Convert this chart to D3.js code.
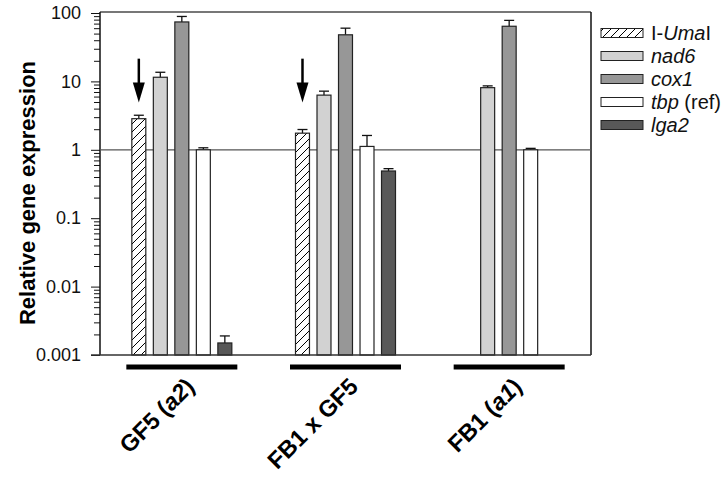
<!DOCTYPE html>
<html>
<head>
<meta charset="utf-8">
<script src="https://cdn.jsdelivr.net/npm/d3@7"></script>
<style>
  html, body { margin: 0; padding: 0; background: #fff; }
  svg { display: block; font-family: Arial, "Liberation Sans", sans-serif; }
</style>
</head>
<body>
<svg id="chart" width="725" height="477"></svg>
<script>
// ---- data ----
const groups = ["GF5 (a2)", "FB1 x GF5", "FB1 (a1)"];
const seriesKeys = ["umaI", "nad6", "cox1", "tbp", "lga2"];
const umaI = [2.85, 1.75, null];
const nad6 = [11.5, 6.3, 8.1];
const cox1 = [74, 48, 64];
const tbp  = [1.0, 1.12, 1.0];
const lga2 = [0.0015, 0.49, null];
const umaIErr = [3.2, 1.98, null];
const nad6Err = [13.6, 7.2, 8.6];
const cox1Err = [89, 60, 78];
const tbpErr  = [1.07, 1.62, 1.05];
const lga2Err = [0.0019, 0.53, null];
const yTickValues = [0.001, 0.01, 0.1, 1, 10, 100];
const yTickLabels = ["0.001", "0.01", "0.1", "1", "10", "100"];
const arrowGroups = [0, 1];
const arrowFrom = 21.5;
const arrowTo = 4.9;
const referenceValue = 1;

(function () {
const values = { umaI, nad6, cox1, tbp, lga2 };
const errors = { umaI: umaIErr, nad6: nad6Err, cox1: cox1Err, tbp: tbpErr, lga2: lga2Err };
const fills = { umaI: "url(#hatch)", nad6: "#d2d2d2", cox1: "#979797", tbp: "#ffffff", lga2: "#585858" };

// ---- layout ----
const svg = d3.select("#chart");
const pLeft = 100, pRight = 591, pTop = 13, pBottom = 355;

const x0 = d3.scaleBand().domain(groups).range([pLeft, pRight]).padding(0);
const x1 = d3.scaleBand().domain(seriesKeys).range([-50, 50]).paddingInner(0.35).paddingOuter(0);
const y = d3.scaleLog().domain([0.001, 100]).range([pBottom, pTop]);

// hatch pattern
const defs = svg.append("defs");
const pat = defs.append("pattern").attr("id", "hatch").attr("patternUnits", "userSpaceOnUse")
  .attr("width", 8).attr("height", 8);
pat.append("rect").attr("width", 8).attr("height", 8).attr("fill", "#fff");
pat.append("path").attr("d", "M-2,2 L2,-2 M0,8 L8,0 M6,10 L10,6").attr("stroke", "#000").attr("stroke-width", 1);

// frame: top (gray) and right (black)
svg.append("line").attr("x1", pLeft).attr("x2", pRight).attr("y1", 12).attr("y2", 12)
  .attr("stroke", "#777").attr("stroke-width", 2);
svg.append("line").attr("x1", pRight).attr("x2", pRight).attr("y1", 12).attr("y2", pBottom)
  .attr("stroke", "#111").attr("stroke-width", 1.5);

// y axis: major ticks
const yAxis = d3.axisLeft(y).tickValues(yTickValues).tickSize(9).tickPadding(10)
  .tickFormat((d, i) => yTickLabels[i]);
const gy = svg.append("g").attr("transform", `translate(${pLeft},0)`).call(yAxis);
gy.select(".domain").remove();
gy.selectAll("text").attr("font-size", 18).attr("fill", "#111").attr("font-family", "Arial, 'Liberation Sans', sans-serif");
gy.selectAll("line").attr("stroke", "#111");
// minor ticks
const minor = [];
for (let e = -3; e < 2; e++) for (let m = 2; m <= 9; m++) minor.push(m * Math.pow(10, e));
const yMinor = d3.axisLeft(y).tickValues(minor).tickSize(6).tickFormat("");
const gm = svg.append("g").attr("transform", `translate(${pLeft},0)`).call(yMinor);
gm.select(".domain").remove();
gm.selectAll("line").attr("stroke", "#111");
svg.append("line").attr("x1", pLeft).attr("x2", pLeft).attr("y1", pTop - 1).attr("y2", pBottom)
  .attr("stroke", "#111").attr("stroke-width", 1.5);

// reference line at 1
svg.append("line").attr("x1", pLeft).attr("x2", pRight).attr("y1", y(referenceValue)).attr("y2", y(referenceValue))
  .attr("stroke", "#555").attr("stroke-width", 1.2);

// bars
groups.forEach((g, gi) => {
  const cx = x0(g) + x0.bandwidth() / 2;
  seriesKeys.forEach(k => {
    const v = values[k][gi];
    if (v == null) return;
    const bx = cx + x1(k);
    const bw = x1.bandwidth();
    const ev = errors[k][gi];
    if (ev != null) {
      const mx = bx + bw / 2;
      svg.append("line").attr("x1", mx).attr("x2", mx).attr("y1", y(v)).attr("y2", y(ev))
        .attr("stroke", "#111").attr("stroke-width", 1.3);
      svg.append("line").attr("x1", mx - 5).attr("x2", mx + 5).attr("y1", y(ev)).attr("y2", y(ev))
        .attr("stroke", "#111").attr("stroke-width", 1.3);
    }
    svg.append("rect").attr("x", bx).attr("y", y(v)).attr("width", bw).attr("height", y(0.001) - y(v))
      .attr("fill", fills[k]).attr("stroke", "#222").attr("stroke-width", 1.2);
  });
});

// baseline
svg.append("line").attr("x1", pLeft - 9).attr("x2", pRight).attr("y1", pBottom).attr("y2", pBottom)
  .attr("stroke", "#333").attr("stroke-width", 1.5);

// arrows
arrowGroups.forEach(gi => {
  const cx = x0(groups[gi]) + x0.bandwidth() / 2 + x1("umaI") + x1.bandwidth() / 2;
  const yTip = y(arrowTo), yTop = y(arrowFrom);
  svg.append("line").attr("x1", cx).attr("x2", cx).attr("y1", yTop).attr("y2", yTip - 18)
    .attr("stroke", "#000").attr("stroke-width", 2.5);
  svg.append("path").attr("d", `M${cx - 6},${yTip - 20} L${cx + 6},${yTip - 20} L${cx},${yTip} Z`).attr("fill", "#000");
});

// group underlines
groups.forEach(g => {
  const cx = x0(g) + x0.bandwidth() / 2;
  svg.append("line").attr("x1", cx - 55.5).attr("x2", cx + 55.5).attr("y1", 367).attr("y2", 367)
    .attr("stroke", "#000").attr("stroke-width", 5);
});

// x labels
const labelParts = [
  [["GF5 (", false], ["a2", true], [")", false]],
  [["FB1 x GF5", false]],
  [["FB1 (", false], ["a1", true], [")", false]]
];
groups.forEach((g, gi) => {
  const cx = x0(g) + x0.bandwidth() / 2;
  const t = svg.append("text").attr("transform", `translate(${cx + 14},388) rotate(-45)`)
    .attr("text-anchor", "end").attr("font-size", 23.5).attr("font-weight", "bold").attr("fill", "#000");
  labelParts[gi].forEach(([s, it]) => t.append("tspan").text(s).attr("font-style", it ? "italic" : "normal"));
});

// y title
svg.append("text").attr("transform", "translate(35,193) rotate(-90)").attr("text-anchor", "middle")
  .attr("font-size", 22).attr("font-weight", "bold").attr("fill", "#000").text("Relative gene expression");

// legend
const legendParts = {
  umaI: [["I-", false], ["Uma", true], ["I", false]],
  nad6: [["nad6", true]],
  cox1: [["cox1", true]],
  tbp: [["tbp", true], [" (ref)", false]],
  lga2: [["lga2", true]]
};
seriesKeys.forEach((k, i) => {
  const cy = 33 + i * 23;
  svg.append("rect").attr("x", 601).attr("y", cy - 4.5).attr("width", 42).attr("height", 9)
    .attr("fill", fills[k]).attr("stroke", "#222").attr("stroke-width", 1);
  const t = svg.append("text").attr("x", 651).attr("y", cy).attr("dy", "0.35em")
    .attr("font-size", 20).attr("fill", "#111");
  legendParts[k].forEach(([s, it]) => t.append("tspan").text(s).attr("font-style", it ? "italic" : "normal"));
});
})();
</script>
</body>
</html>
